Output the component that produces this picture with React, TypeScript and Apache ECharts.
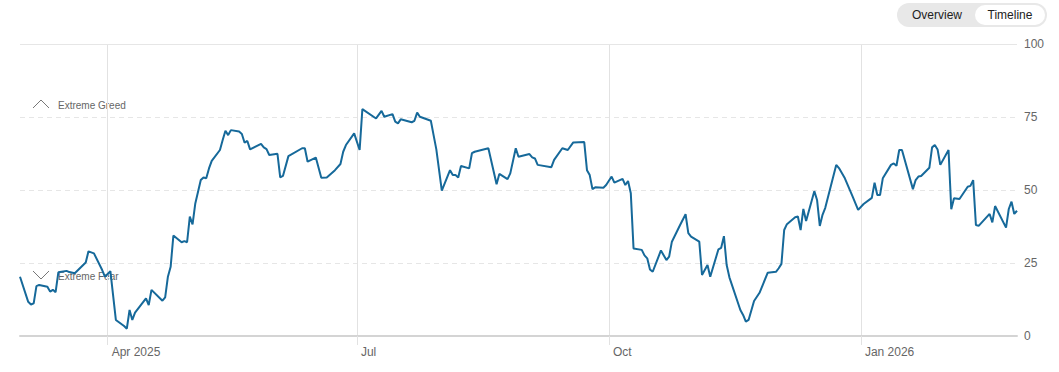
import React, { useEffect, useRef } from "react";
import * as echarts from "echarts";

const dates: string[] = [
  "2025-02-28","2025-03-03","2025-03-04","2025-03-05","2025-03-06","2025-03-07","2025-03-10","2025-03-11","2025-03-12","2025-03-13",
  "2025-03-14","2025-03-17","2025-03-18","2025-03-20","2025-03-24","2025-03-25","2025-03-27","2025-03-30","2025-03-31","2025-04-02",
  "2025-04-04","2025-04-07","2025-04-08","2025-04-09","2025-04-10","2025-04-11","2025-04-15","2025-04-16","2025-04-17","2025-04-21",
  "2025-04-22","2025-04-23","2025-04-24","2025-04-25","2025-04-28","2025-04-29","2025-04-30","2025-05-01","2025-05-02","2025-05-03",
  "2025-05-05","2025-05-06","2025-05-07","2025-05-08","2025-05-09","2025-05-12","2025-05-13","2025-05-14","2025-05-15","2025-05-16",
  "2025-05-19","2025-05-20","2025-05-21","2025-05-22","2025-05-23","2025-05-27","2025-05-28","2025-05-29","2025-05-30","2025-06-02",
  "2025-06-03","2025-06-04","2025-06-06","2025-06-11","2025-06-12","2025-06-13","2025-06-16","2025-06-18","2025-06-20","2025-06-23",
  "2025-06-25","2025-06-26","2025-06-27","2025-06-30","2025-07-02","2025-07-03","2025-07-08","2025-07-10","2025-07-11","2025-07-14",
  "2025-07-15","2025-07-16","2025-07-17","2025-07-21","2025-07-22","2025-07-23","2025-07-24","2025-07-28","2025-07-29","2025-07-30",
  "2025-08-01","2025-08-04","2025-08-05","2025-08-06","2025-08-07","2025-08-08","2025-08-11","2025-08-12","2025-08-13","2025-08-18",
  "2025-08-21","2025-08-22","2025-08-25","2025-08-26","2025-08-28","2025-08-29","2025-09-02","2025-09-03","2025-09-04","2025-09-05",
  "2025-09-10","2025-09-11","2025-09-14","2025-09-16","2025-09-18","2025-09-22","2025-09-23","2025-09-24","2025-09-25","2025-09-26",
  "2025-09-29","2025-09-30","2025-10-02","2025-10-03","2025-10-06","2025-10-07","2025-10-08","2025-10-09","2025-10-10","2025-10-13",
  "2025-10-14","2025-10-15","2025-10-16","2025-10-17","2025-10-20","2025-10-22","2025-10-23","2025-10-24","2025-10-27","2025-10-29",
  "2025-10-30","2025-10-31","2025-11-03","2025-11-04","2025-11-06","2025-11-07","2025-11-10","2025-11-11","2025-11-12","2025-11-13",
  "2025-11-14","2025-11-18","2025-11-19","2025-11-20","2025-11-21","2025-11-23","2025-11-25","2025-11-28","2025-12-01","2025-12-02",
  "2025-12-03","2025-12-04","2025-12-05","2025-12-08","2025-12-09","2025-12-10","2025-12-11","2025-12-12","2025-12-15","2025-12-16",
  "2025-12-17","2025-12-18","2025-12-19","2025-12-23","2025-12-24","2025-12-26","2025-12-29","2025-12-31","2026-01-02","2026-01-05",
  "2026-01-06","2026-01-07","2026-01-08","2026-01-09","2026-01-12","2026-01-13","2026-01-14","2026-01-15","2026-01-16","2026-01-20",
  "2026-01-21","2026-01-22","2026-01-23","2026-01-26","2026-01-27","2026-01-28","2026-01-29","2026-01-30","2026-02-02","2026-02-03",
  "2026-02-04","2026-02-06","2026-02-09","2026-02-10","2026-02-11","2026-02-12","2026-02-13","2026-02-17","2026-02-18","2026-02-19",
  "2026-02-23","2026-02-24","2026-02-25","2026-02-26","2026-02-27",
];

const values: number[] = [
  20.3, 11.7, 10.8, 11.2, 17.1, 17.5, 16.9, 15.2, 15.8, 15,
  21.8, 22.3, 21.9, 21.5, 25.2, 29, 28.3, 22.6, 20.3, 22.2,
  5.5, 3.4, 2.5, 8.9, 5.5, 8, 12.9, 10.6, 15.8, 12.1,
  13.2, 20.3, 23.7, 34.4, 32.1, 32.5, 32.1, 40.9, 38.2, 45.4,
  53.4, 54.3, 54, 57.4, 60, 63.7, 67.1, 70.3, 68.8, 70.5,
  70, 69.2, 66.2, 66.8, 63.9, 65.8, 64.6, 64, 62, 62.4,
  54.3, 54.8, 61.6, 64.3, 64.3, 59.7, 61.1, 54.2, 54.3, 56.8,
  58.9, 63.1, 65.4, 69.4, 63.7, 77.7, 74.5, 77.1, 75.1, 76,
  73.4, 72.8, 74.2, 73.2, 73.7, 76.5, 75.1, 73.7, 68.8, 63.9,
  49.8, 56.8, 55.1, 55.1, 54.3, 58.2, 57.4, 62.6, 63.1, 64.3,
  52, 55.5, 53.7, 55.7, 64.3, 61.4, 62.3, 61.2, 60.8, 58.6,
  57.8, 60.3, 64.3, 63.7, 66.3, 66.4, 56.8, 55.1, 50.3, 50.9,
  50.8, 51.7, 54.6, 52.5, 53.8, 51.7, 53.1, 48.9, 30, 29.5,
  27.6, 26.6, 22.8, 22, 29.3, 26, 27.2, 32.3, 38, 41.7,
  35.2, 34, 32.3, 20.9, 24.3, 20.3, 29.7, 30.2, 34.2, 24.3,
  20.1, 8.9, 7.2, 4.9, 5.5, 12, 14.8, 21.7, 22, 23.2,
  24.7, 36.3, 38.3, 40.7, 40.9, 36.3, 43.5, 39.4, 49.6, 46.6,
  37.7, 41.5, 43.9, 58.6, 57.5, 54.3, 47.7, 43.2, 45.2, 47.3,
  52.5, 48.3, 48.3, 54, 58.6, 59.1, 58.3, 63.7, 63.7, 50.3,
  53.4, 54.6, 54.8, 57.6, 64.6, 65.4, 63.9, 58.6, 63.7, 43.4,
  47.2, 46.9, 51.1, 51.4, 53.4, 38, 37.7, 41.8, 38.9, 44.5,
  37.1, 43.5, 46, 41.8, 42.9,
];

const tickDates: string[] = ["2025-04-01", "2025-07-01", "2025-10-01", "2026-01-01"];
const tickLabels: string[] = ["Apr 2025", "Jul", "Oct", "Jan 2026"];
const yTicks: number[] = [0, 25, 50, 75, 100];
const zoneLabels: string[] = ["Extreme Greed", "Extreme Fear"];
const toggleLabels: string[] = ["Overview", "Timeline"];

const FONT = "'Liberation Sans', Arial, Helvetica, sans-serif";

function parseDay(s: string): number {
  const [y, m, d] = s.split("-").map(Number);
  return Date.UTC(y, m - 1, d);
}

export default function App() {
  const ref = useRef<HTMLDivElement>(null);

  useEffect(() => {
    if (!ref.current) return;
    const chart = echarts.init(ref.current, undefined, { renderer: "svg" });
    const seriesData = dates.map((d, i) => [parseDay(d), values[i]]);
    const tickTimes = tickDates.map(parseDay);

    const option: any = {
      animation: false,
      backgroundColor: "#ffffff",
      textStyle: { fontFamily: FONT },
      grid: { left: 20, right: 42, top: 44, bottom: 36 },
      xAxis: {
        type: "value",
        min: parseDay(dates[0]),
        max: parseDay(dates[dates.length - 1]),
        axisLine: { show: true, lineStyle: { color: "#d4d4d4", width: 2 } },
        axisTick: {
          show: true,
          customValues: tickTimes,
          length: 9,
          lineStyle: { color: "#e2e2e2", width: 1 },
        },
        axisLabel: {
          customValues: tickTimes,
          align: "left",
          margin: 10,
          padding: [0, 0, 0, 4],
          color: "#666666",
          fontSize: 12,
          fontFamily: FONT,
          formatter: (v: number) => {
            const idx = tickTimes.findIndex((t) => Math.abs(t - v) < 86400000 / 2);
            return idx >= 0 ? tickLabels[idx] : "";
          },
        },
        splitLine: { show: true, lineStyle: { color: "#e2e2e2", width: 1 } },
      },
      yAxis: {
        type: "value",
        position: "right",
        min: yTicks[0],
        max: yTicks[yTicks.length - 1],
        interval: 25,
        axisLine: { show: false },
        axisTick: { show: false },
        axisLabel: { color: "#666666", fontSize: 12, margin: 7, fontFamily: FONT },
        splitLine: { show: true, lineStyle: { color: "#e6e6e6", type: [5, 4], width: 1 } },
      },
      series: [
        {
          type: "line",
          data: seriesData,
          showSymbol: false,
          symbol: "none",
          lineStyle: { color: "#16699a", width: 2 },
          itemStyle: { color: "#16699a" },
          silent: true,
          markLine: {
            silent: true,
            symbol: ["none", "none"],
            label: { show: false },
            lineStyle: { color: "#e6e6e6", type: "solid", width: 1 },
            data: [{ yAxis: yTicks[yTicks.length - 1] }],
          },
        },
      ],
      graphic: [
        {
          type: "polyline",
          shape: { points: [[33, 108], [41, 100], [49, 108]] },
          style: { stroke: "#777777", lineWidth: 1, fill: null },
        },
        {
          type: "text",
          x: 58,
          y: 105,
          style: { text: zoneLabels[0], fill: "#666666", fontSize: 10, fontFamily: FONT, verticalAlign: "middle" },
        },
        {
          type: "polyline",
          shape: { points: [[33, 271], [41, 279], [49, 271]] },
          style: { stroke: "#777777", lineWidth: 1, fill: null },
        },
        {
          type: "text",
          x: 58,
          y: 276,
          style: { text: zoneLabels[1], fill: "#666666", fontSize: 10, fontFamily: FONT, verticalAlign: "middle" },
        },
        {
          type: "rect",
          shape: { x: 897, y: 3, width: 150, height: 24, r: 12 },
          style: { fill: "#e8e8e8" },
        },
        {
          type: "rect",
          shape: { x: 975, y: 5, width: 70, height: 20, r: 10 },
          style: { fill: "#ffffff" },
        },
        {
          type: "text",
          x: 937,
          y: 15,
          style: { text: toggleLabels[0], fill: "#222222", fontSize: 12, fontFamily: FONT, align: "center", verticalAlign: "middle" },
        },
        {
          type: "text",
          x: 1010,
          y: 15,
          style: { text: toggleLabels[1], fill: "#222222", fontSize: 12, fontFamily: FONT, align: "center", verticalAlign: "middle" },
        },
      ],
    };
    chart.setOption(option);
    return () => chart.dispose();
  }, []);

  return (
    <div
      ref={ref}
      style={{ position: "fixed", left: 0, top: 0, width: 1059, height: 372, background: "#fff" }}
    />
  );
}
